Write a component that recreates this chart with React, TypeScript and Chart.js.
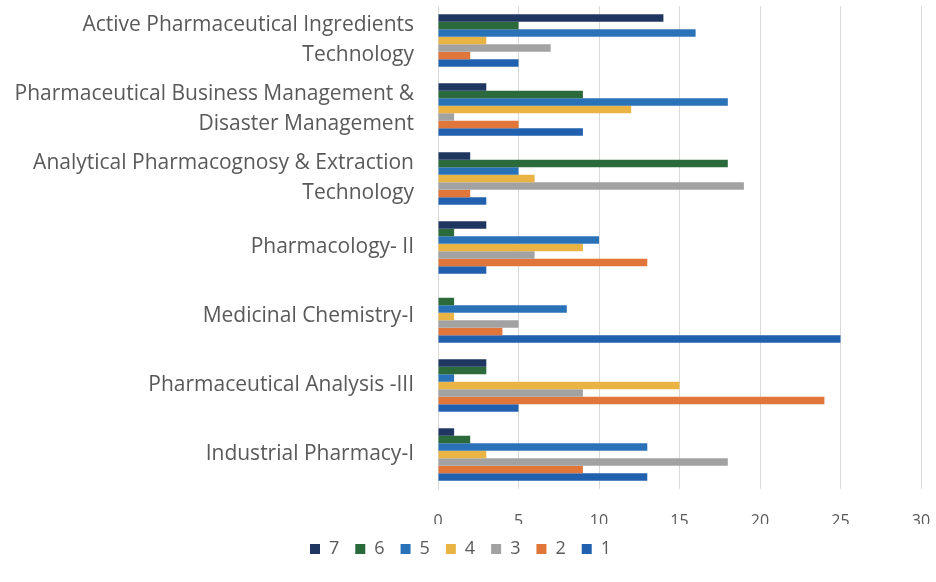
import React, { useEffect, useRef } from "react";
import { Chart, registerables } from "chart.js";

Chart.register(...registerables);

const categories: (string | string[])[] = [
  ["Active Pharmaceutical Ingredients", "Technology"],
  ["Pharmaceutical Business Management &", "Disaster Management"],
  ["Analytical Pharmacognosy & Extraction", "Technology"],
  "Pharmacology- II",
  "Medicinal Chemistry-I",
  "Pharmaceutical Analysis -III",
  "Industrial Pharmacy-I",
];

const series7 = [14, 3, 2, 3, 0, 3, 1];
const series6 = [5, 9, 18, 1, 1, 3, 2];
const series5 = [16, 18, 5, 10, 8, 1, 13];
const series4 = [3, 12, 6, 9, 1, 15, 3];
const series3 = [7, 1, 19, 6, 5, 9, 18];
const series2 = [2, 5, 2, 13, 4, 24, 9];
const series1 = [5, 9, 3, 3, 25, 5, 13];

const seriesNames = ["7", "6", "5", "4", "3", "2", "1"];
const seriesValues = [series7, series6, series5, series4, series3, series2, series1];
const seriesColors = ["#1f3660", "#2b6a3b", "#2a72b8", "#eab445", "#a2a2a2", "#e0763a", "#2160ae"];

const xTicks = [0, 5, 10, 15, 20, 25, 30];

export default function App() {
  const ref = useRef<HTMLCanvasElement | null>(null);
  useEffect(() => {
    if (!ref.current) return;
    const font = "'Open Sans', 'DejaVu Sans', sans-serif";
    const chart = new Chart(ref.current, {
      type: "bar",
      data: {
        labels: categories,
        datasets: seriesNames.map((n, i) => ({
          label: n,
          data: seriesValues[i],
          backgroundColor: seriesColors[i],
          borderWidth: 0,
          categoryPercentage: 0.76,
          barPercentage: 1.0,
        })),
      },
      options: {
        indexAxis: "y",
        animation: false,
        responsive: false,
        maintainAspectRatio: false,
        layout: { padding: { left: 0, right: 15, top: 6, bottom: 14 } },
        plugins: {
          tooltip: { enabled: false },
          legend: {
            position: "bottom",
            labels: {
              boxWidth: 10,
              boxHeight: 10,
              padding: 16,
              color: "#595959",
              font: { family: font, size: 18 },
            },
          },
        },
        scales: {
          x: {
            min: 0,
            max: 30,
            afterBuildTicks: (s: any) => {
              s.ticks = xTicks.map((v) => ({ value: v }));
            },
            afterFit: (s: any) => {
              s.height = 35;
              s.paddingLeft = 0;
              s.paddingRight = 0;
            },
            grid: { color: "#d9d9d9", drawTicks: false },
            border: { display: false },
            ticks: {
              padding: 23,
              color: "#595959",
              font: { family: font, size: 16 },
            },
          },
          y: {
            afterFit: (s: any) => {
              s.width = 438;
              s.paddingTop = 0;
              s.paddingBottom = 0;
            },
            grid: { display: false, drawTicks: false },
            border: { display: true, color: "#d9d9d9" },
            ticks: {
              autoSkip: false,
              padding: 24,
              color: "#595959",
              font: { family: font, size: 21, lineHeight: 1.43 },
            },
          },
        },
      },
    });
    return () => chart.destroy();
  }, []);
  return (
    <div style={{ position: "absolute", left: 0, top: 0, width: 936, height: 582, background: "#fff" }}>
      <canvas ref={ref} width={936} height={582} style={{ width: 936, height: 582 }} />
    </div>
  );
}
